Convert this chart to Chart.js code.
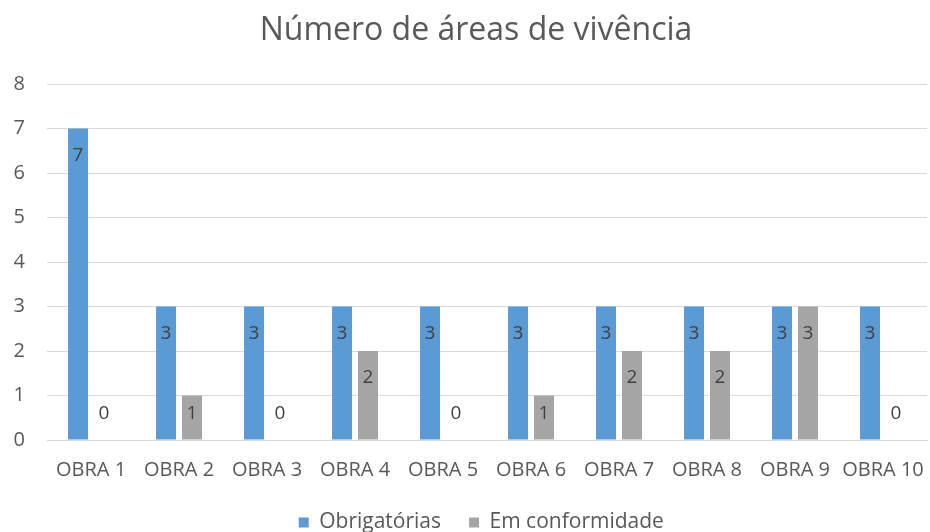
<!DOCTYPE html>
<html>
<head>
<meta charset="utf-8">
<script src="https://cdn.jsdelivr.net/npm/chart.js@4/dist/chart.umd.min.js"></script>
<style>
    html, body { margin: 0; padding: 0; background: #fff; }
    #wrap { width: 930px; height: 532px; position: relative; }
</style>
</head>
<body>
<div id="wrap"><canvas id="chart"></canvas></div>
<script>
const categories = ['OBRA 1', 'OBRA 2', 'OBRA 3', 'OBRA 4', 'OBRA 5', 'OBRA 6', 'OBRA 7', 'OBRA 8', 'OBRA 9', 'OBRA 10'];
const obrigatorias = [7, 3, 3, 3, 3, 3, 3, 3, 3, 3];
const emConformidade = [0, 1, 0, 2, 0, 1, 2, 2, 3, 0];
const seriesNames = ['Obrigatórias', 'Em conformidade'];
const chartTitle = 'Número de áreas de vivência';

const palette = {
    blue: '#5b9bd5',
    gray: '#a5a5a5',
    text: '#595959',
    label: '#404040',
    grid: '#d9d9d9'
};
const fontFamily = '"Open Sans", "Noto Sans", sans-serif';

// value labels drawn near the top inside each bar
const valueLabels = {
    id: 'valueLabels',
    afterDatasetsDraw(chart) {
        const ctx = chart.ctx;
        const base = chart.scales.y.getPixelForValue(0);
        ctx.save();
        ctx.font = '19px ' + fontFamily;
        ctx.fillStyle = palette.label;
        ctx.textAlign = 'center';
        ctx.textBaseline = 'middle';
        chart.data.datasets.forEach((ds, i) => {
            chart.getDatasetMeta(i).data.forEach((bar, j) => {
                const y = Math.min(bar.y + 27, base - 26);
                ctx.fillText(String(ds.data[j]), bar.x, y);
            });
        });
        ctx.restore();
    }
};

// title and legend sit a bit right of the canvas centre in the original
const titleText = {
    id: 'titleText',
    afterLayout(chart) {
        if (chart.legend) {
            chart.legend.left += 11;
            chart.legend.right += 11;
        }
    },
    afterDraw(chart) {
        const ctx = chart.ctx;
        ctx.save();
        ctx.font = '32px ' + fontFamily;
        ctx.fillStyle = palette.text;
        ctx.textAlign = 'center';
        ctx.textBaseline = 'middle';
        ctx.fillText(chartTitle, 476, 31);
        ctx.restore();
    }
};

new Chart(document.getElementById('chart'), {
    type: 'bar',
    data: {
        labels: categories,
        datasets: [{
            label: seriesNames[0],
            data: obrigatorias,
            backgroundColor: palette.blue,
            categoryPercentage: 0.59,
            barPercentage: 0.77
        }, {
            label: seriesNames[1],
            data: emConformidade,
            backgroundColor: palette.gray,
            categoryPercentage: 0.59,
            barPercentage: 0.77
        }]
    },
    options: {
        responsive: true,
        maintainAspectRatio: false,
        animation: false,
        layout: {
            padding: { left: 13.6, right: 3, top: 84, bottom: -11 }
        },
        plugins: {
            title: { display: false },
            legend: {
                position: 'bottom',
                labels: {
                    color: palette.text,
                    font: { family: fontFamily, size: 21, lineHeight: 1 },
                    boxWidth: 10,
                    boxHeight: 10,
                    padding: 28
                }
            },
            tooltip: { enabled: false }
        },
        scales: {
            x: {
                grid: { display: false, tickLength: 16 },
                border: { color: palette.grid },
                ticks: {
                    color: palette.text,
                    font: { family: fontFamily, size: 20 },
                    padding: 2,
                    maxRotation: 0,
                    autoSkip: false
                }
            },
            y: {
                min: 0,
                max: 8,
                grid: { color: palette.grid, drawTicks: false },
                border: { display: false },
                ticks: {
                    stepSize: 1,
                    padding: 11,
                    crossAlign: 'far',
                    color: palette.text,
                    font: { family: fontFamily, size: 20 }
                }
            }
        }
    },
    plugins: [valueLabels, titleText]
});
</script>
</body>
</html>
